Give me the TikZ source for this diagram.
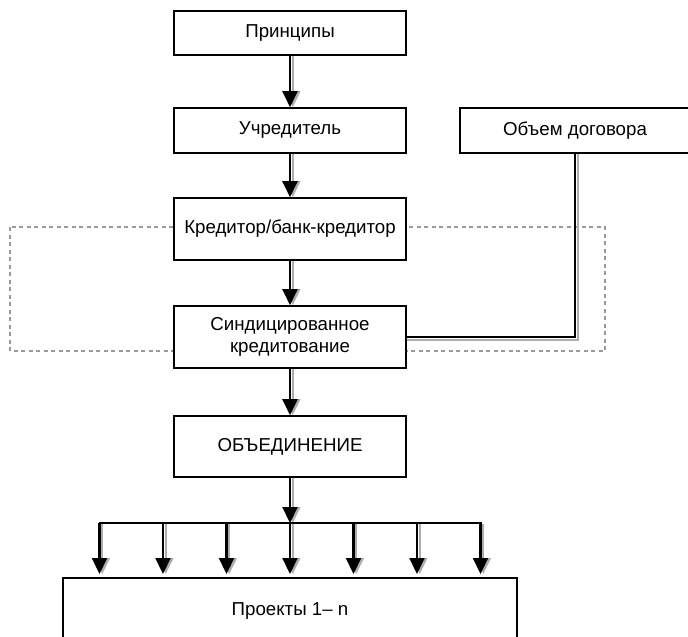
\documentclass[tikz,border=0pt]{standalone}
\usepackage{fontspec}
\setmainfont{Liberation Sans}
\usetikzlibrary{arrows.meta}
\begin{document}
\begin{tikzpicture}[x=1pt,y=-1pt,
  box/.style={draw=black, line width=1.6pt, fill=white, minimum width=232pt,
    align=center, font=\fontsize{18.7}{22}\selectfont, inner sep=0pt},
  flow/.style={draw=black, line width=2.2pt, -{Triangle[length=16pt,width=15pt]}},
  flowshade/.style={draw=black!32, line width=2.2pt, -{Triangle[length=16pt,width=15pt]}},
  wire/.style={draw=black, line width=2pt},
  wireshade/.style={draw=black!32, line width=2pt},
  group/.style={draw=black!40, dash pattern=on 4pt off 3.5pt, line width=1.5pt}]
\useasboundingbox (0,0) rectangle (688,637);
\clip (0,0) rectangle (688,637);

% dashed frame round the lending stage
\draw[group] (10,227) rectangle (605,351);

% boxes
\node[box, minimum height=44pt] (princ) at (290,33) {Принципы};
\node[box, minimum height=45pt] (found) at (290,130.5) {Учредитель};
\node[box, minimum height=45pt, minimum width=230pt] (vol) at (575,130.5) {Объем договора};
\node[box, minimum height=62pt] (cred) at (290,229) {Кредитор/банк-кредитор};
\node[box, minimum height=62pt] (synd) at (290,337) {Синдицированное\\кредитование};
\node[box, minimum height=61pt] (unite) at (290,446.5) {ОБЪЕДИНЕНИЕ};
\node[box, minimum width=454pt, anchor=north, text height=38pt, text depth=50pt]
  (proj) at (290,577) {Проекты 1– n};

% main chain of arrows, each with its grey shadow
\foreach \a/\b in {princ/found, found/cred, cred/synd, synd/unite} {
  \draw[flowshade] ([xshift=2.8pt]\a.south) -- ([xshift=2.8pt]\b.north);
  \draw[flow] (\a.south) -- (\b.north);
}

% contract volume feeding the syndicated lending box
\draw[wireshade] ([xshift=3.2pt]vol.south) |- ([yshift=-3.2pt]synd.east);
\draw[wire] (vol.south) |- (synd.east);

% distribution bus to the projects
\coordinate (bus) at (290,523);
\coordinate (busL) at (99.5,523);
\coordinate (busR) at (480.5,523);
\draw[flowshade] ([xshift=2.8pt]unite.south) -- ([xshift=2.8pt]bus);
\draw[flow] (unite.south) -- (bus);
\foreach \i in {0,...,6} {
  \coordinate (d\i) at ({99.5+63.5*\i},523);
  \draw[flowshade] ([xshift=2.8pt,yshift=-1pt]d\i) -- ([xshift=2.8pt,yshift=3pt]d\i |- proj.north);
  \draw[flow] (d\i) -- ([yshift=3pt]d\i |- proj.north);
}
\draw[wire, line cap=rect] (busL) -- (busR);
\end{tikzpicture}
\end{document}
